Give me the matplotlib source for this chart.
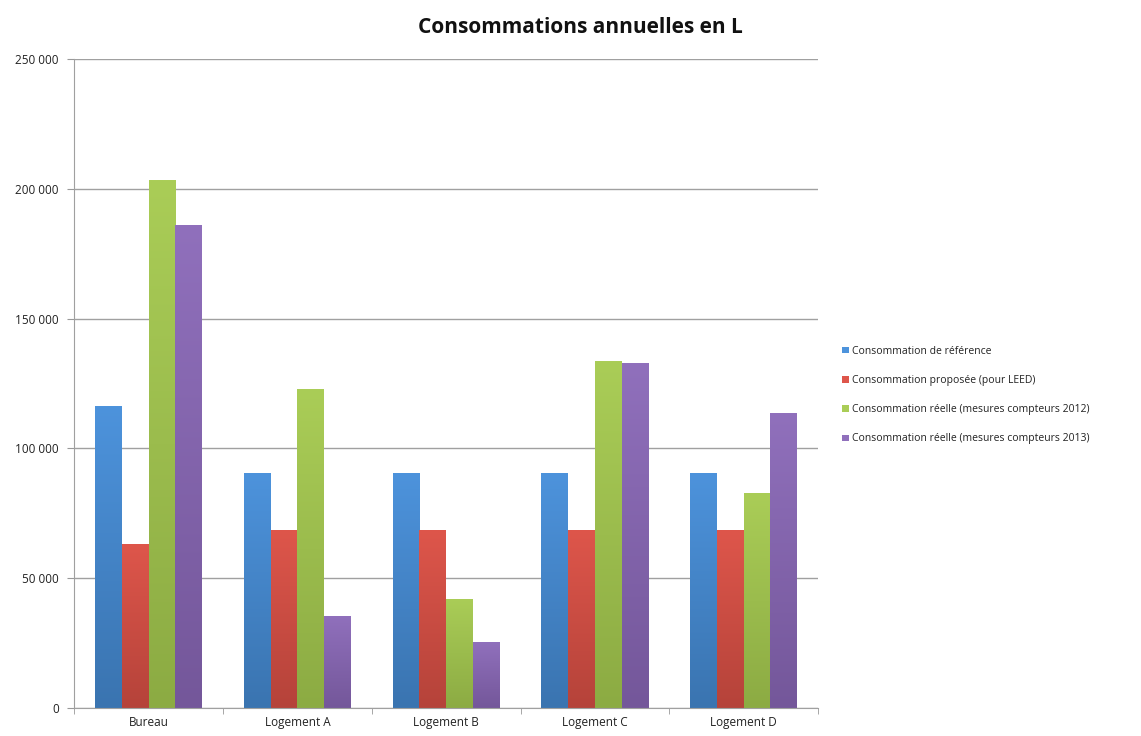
import numpy as np
import matplotlib
matplotlib.use("Agg")
import matplotlib.pyplot as plt
from matplotlib.colors import LinearSegmentedColormap

# Données de consommation annuelle (en litres)
categories = ["Bureau", "Logement A", "Logement B", "Logement C", "Logement D"]
series_names = [
    "Consommation de référence",
    "Consommation proposée (pour LEED)",
    "Consommation réelle (mesures compteurs 2012)",
    "Consommation réelle (mesures compteurs 2013)",
]
reference = [116300, 90500, 90500, 90500, 90700]
proposee = [63100, 68600, 68600, 68600, 68400]
reelle_2012 = [203200, 122700, 42000, 133600, 82700]
reelle_2013 = [186200, 35600, 25400, 132800, 113500]
yticks = [0, 50000, 100000, 150000, 200000, 250000]
ytick_labels = ["0", "50 000", "100 000", "150 000", "200 000", "250 000"]

series = [reference, proposee, reelle_2012, reelle_2013]
# couleur haut / bas du dégradé de chaque série
colors_top = ["#4d93dc", "#de564b", "#aacd57", "#9070bc"]
colors_bot = ["#3a74b0", "#b5433a", "#8cab43", "#74579a"]

plt.rcParams["font.family"] = ["Open Sans", "DejaVu Sans"]

fig = plt.figure(figsize=(11.41, 7.36), dpi=100)
ax = fig.add_axes([0.065, 0.038, 0.652, 0.882])

x = np.arange(len(categories))
width = 0.18
for i, vals in enumerate(series):
    offs = (i - 1.5) * width
    bars = ax.bar(x + offs, vals, width, color=colors_top[i], label=series_names[i],
                  zorder=2, linewidth=0)
    cmap = LinearSegmentedColormap.from_list("g%d" % i, [colors_bot[i], colors_top[i]])
    grad = np.linspace(0, 1, 256).reshape(-1, 1)
    for b in bars:
        bx, by = b.get_x(), b.get_y()
        bw, bh = b.get_width(), b.get_height()
        im = ax.imshow(grad, cmap=cmap, origin="lower", aspect="auto",
                       extent=[bx, bx + bw, by, by + bh], zorder=2.5)
        im.set_clip_path(b)

ax.set_xlim(-0.5, len(categories) - 0.5)
ax.set_ylim(0, 250000)
ax.set_yticks(yticks)
ax.set_yticklabels(ytick_labels, fontsize=8.5, color="#222222")
ax.set_xticks(x)
ax.set_xticklabels(categories, fontsize=8.5, color="#222222")
ax.set_xticks(np.arange(len(categories) + 1) - 0.5, minor=True)
ax.tick_params(axis="x", which="major", length=0, pad=6)
ax.tick_params(axis="x", which="minor", length=4, color="#999999")
ax.tick_params(axis="y", length=5, color="#999999", pad=6)

ax.yaxis.grid(True, color="#a0a0a0", linewidth=1.0, zorder=0)
ax.set_axisbelow(True)
for s in ["top", "right"]:
    ax.spines[s].set_visible(False)
ax.spines["left"].set_color("#a0a0a0")
ax.spines["bottom"].set_color("#a0a0a0")

fig.text(0.509, 0.962, "Consommations annuelles en L", ha="center", va="center",
         fontsize=15, fontweight="bold", color="#111111")

leg = ax.legend(loc="center left", bbox_to_anchor=(1.02, 0.482), frameon=False,
                fontsize=7.5, handlelength=0.6, handleheight=0.6, handletextpad=0.3,
                labelspacing=1.75)
for t in leg.get_texts():
    t.set_color("#222222")

fig.savefig("out.png", dpi=100)
